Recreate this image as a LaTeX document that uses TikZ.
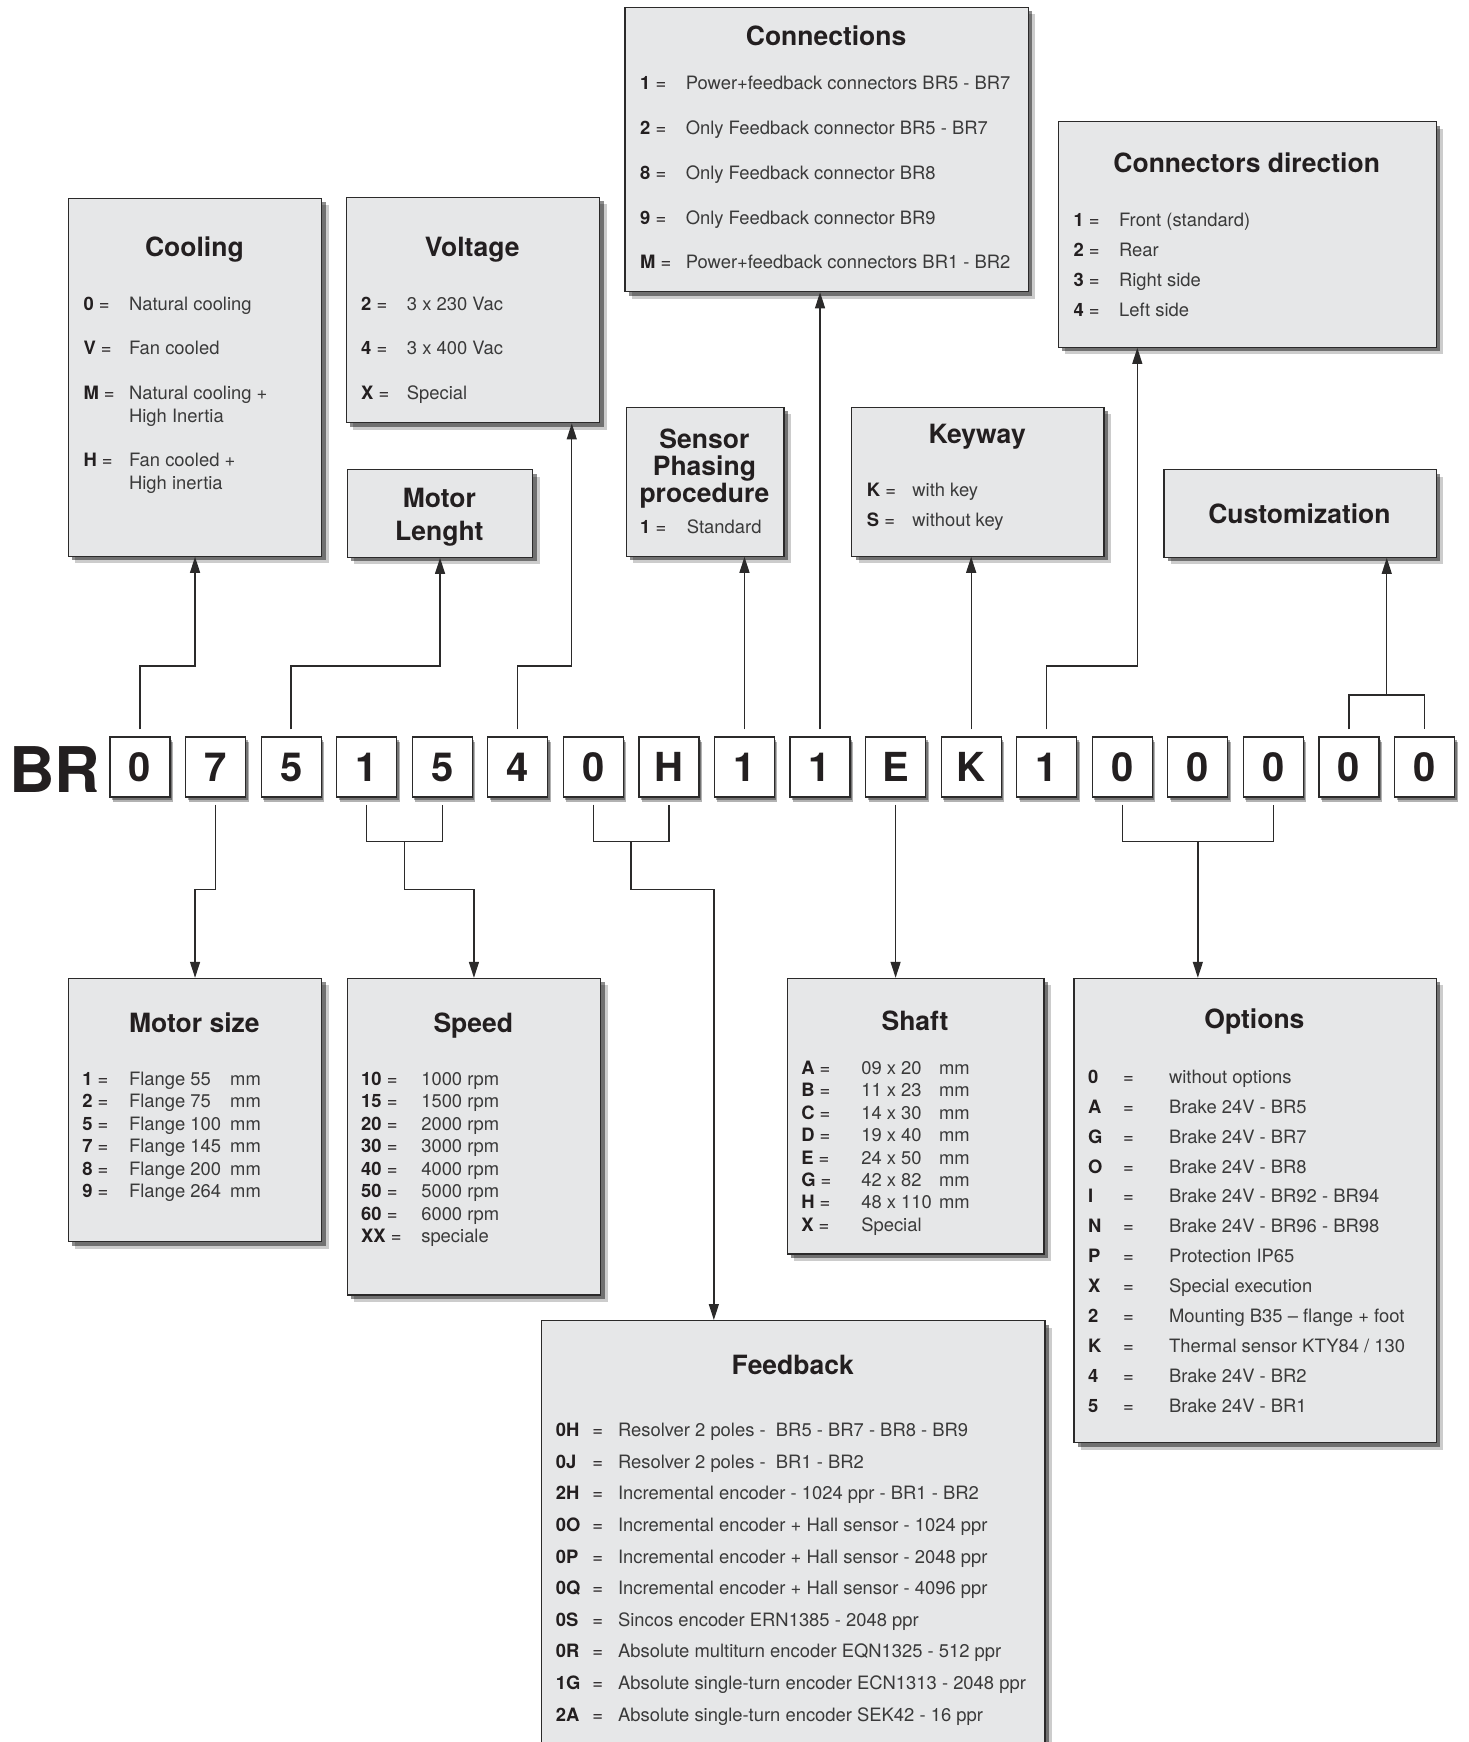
\documentclass[tikz,border=0pt]{standalone}
\usepackage{fontspec}
\setmainfont{TeX Gyre Heros}
\usetikzlibrary{positioning, arrows.meta, shadows, calc}
\definecolor{boxgrey}{HTML}{E6E7E8}
\definecolor{linegrey}{HTML}{2B2A2A}
\definecolor{keyblack}{HTML}{231F20}
\definecolor{valgrey}{HTML}{3A3A3A}
\newcommand{\bodysize}{\fontsize{18.4}{22}\selectfont}

\begin{document}
\begin{tikzpicture}[x=1pt, y=-1pt,
    codebox/.style={rectangle, draw=linegrey, line width=1.2pt, fill=white, minimum size=60pt, inner sep=0pt, font=\fontsize{40}{40}\selectfont\bfseries, text=keyblack, drop shadow={shadow xshift=2pt, shadow yshift=-3pt, opacity=0.35, fill=black}, drop shadow={shadow xshift=3pt, shadow yshift=-5pt, opacity=0.3, fill=black}},
    infobox/.style={rectangle, draw=linegrey, line width=1.2pt, fill=boxgrey, anchor=north west, inner sep=0pt, drop shadow={shadow xshift=7pt, shadow yshift=-7pt, opacity=0.2, fill=black}, drop shadow={shadow xshift=4pt, shadow yshift=-4pt, opacity=0.45, fill=black}},
    boxtitle/.style={anchor=base, inner sep=0pt, font=\fontsize{26.5}{30}\selectfont\bfseries, text=keyblack},
    keytxt/.style={anchor=base west, inner sep=0pt, font=\bodysize, text=keyblack},
    valtxt/.style={anchor=base west, inner sep=0pt, font=\bodysize, text=valgrey},
    conn/.style={draw=linegrey, line width=1.3pt, -{Triangle[length=16pt, width=10pt]}, shorten <=7pt},
    joinline/.style={draw=linegrey, line width=1.3pt, shorten <=7pt, shorten >=7pt}
]
\path[use as bounding box, clip] (0,0) rectangle (1469,1742);

% code row
\node[anchor=base west, inner sep=0pt, font=\fontsize{63}{63}\selectfont\bfseries, text=keyblack] (br) at (9,792) {BR};
\foreach \ch [count=\i from 0] in {0,7,5,1,5,4,0,H,1,1,E,K,1,0,0,0,0,0}
  \node[codebox] (c\i) at ({140+75.56*\i},767) {\ch};

% upper boxes
\node[infobox, minimum width=253.3pt, minimum height=357.8pt] (cooling) at (67.8,197.8) {};
\node[boxtitle] (cooling-t) at (194.4,256.7) {Cooling};
\node[keytxt] (cooling-k0) at (83.3,310) {\textbf{0} =};
\node[valtxt] (cooling-v0) at (128.9,310) {Natural cooling};
\node[keytxt] (cooling-k1) at (83.3,354.5) {\textbf{V} =};
\node[valtxt] (cooling-v1) at (128.9,354.5) {Fan cooled};
\node[keytxt] (cooling-k2) at (83.3,399) {\textbf{M} =};
\node[valtxt] (cooling-v2) at (128.9,399) {Natural cooling +};
\node[valtxt] (cooling-w2) at (128.9,422) {High Inertia};
\node[keytxt] (cooling-k3) at (83.3,466.7) {\textbf{H} =};
\node[valtxt] (cooling-v3) at (128.9,466.7) {Fan cooled +};
\node[valtxt] (cooling-w3) at (128.9,489) {High inertia};

\node[infobox, minimum width=253.3pt, minimum height=225.5pt] (voltage) at (345.6,196.7) {};
\node[boxtitle] (voltage-t) at (472.2,256.7) {Voltage};
\foreach \k/\v [count=\i from 0] in {2/3 x 230 Vac, 4/3 x 400 Vac, X/Special} {
  \node[keytxt] (voltage-k\i) at (361,{310+44.9*\i}) {\textbf{\k} =};
  \node[valtxt] (voltage-v\i) at (406.7,{310+44.9*\i}) {\v};
}

\node[infobox, minimum width=185.5pt, minimum height=87.8pt] (mlen) at (346.7,468.9) {};
\node[boxtitle] (mlen-t1) at (439.4,507.8) {Motor};
\node[boxtitle] (mlen-t2) at (439.4,540) {Lenght};

\node[infobox, minimum width=403.4pt, minimum height=284.4pt] (conns) at (624.4,6.7) {};
\node[boxtitle] (conns-t) at (826.1,45.6) {Connections};
\foreach \k/\v [count=\i from 0] in {1/Power+feedback connectors BR5 - BR7, 2/Only Feedback connector BR5 - BR7, 8/Only Feedback connector BR8, 9/Only Feedback connector BR9, M/Power+feedback connectors BR1 - BR2} {
  \node[keytxt] (conns-k\i) at (640,{90+44.7*\i}) {\textbf{\k} =};
  \node[valtxt] (conns-v\i) at (685.6,{90+44.7*\i}) {\v};
}

\node[infobox, minimum width=377.8pt, minimum height=225.6pt] (conndir) at (1057.8,121.1) {};
\node[boxtitle] (conndir-t) at (1246.7,172.2) {Connectors direction};
\foreach \k/\v [count=\i from 0] in {1/Front (standard), 2/Rear, 3/Right side, 4/Left side} {
  \node[keytxt] (conndir-k\i) at (1073.3,{226.6+30*\i}) {\textbf{\k} =};
  \node[valtxt] (conndir-v\i) at (1118.9,{226.6+30*\i}) {\v};
}

\node[infobox, minimum width=157.7pt, minimum height=148.9pt] (sensor) at (625.6,406.7) {};
\node[boxtitle] (sensor-t1) at (704.4,448.9) {Sensor};
\node[boxtitle] (sensor-t2) at (704.4,475.6) {Phasing};
\node[boxtitle] (sensor-t3) at (704.4,502.2) {procedure};
\node[keytxt] (sensor-k0) at (640,533.3) {\textbf{1} =};
\node[valtxt] (sensor-v0) at (686.7,533.3) {Standard};

\node[infobox, minimum width=252.2pt, minimum height=148.9pt] (keyway) at (851.1,406.7) {};
\node[boxtitle] (keyway-t) at (977.2,443.3) {Keyway};
\node[keytxt] (keyway-k0) at (866.7,496.6) {\textbf{K} =};
\node[valtxt] (keyway-v0) at (912.2,496.6) {with key};
\node[keytxt] (keyway-k1) at (866.7,526.6) {\textbf{S} =};
\node[valtxt] (keyway-v1) at (912.2,526.6) {without key};

\node[infobox, minimum width=272.3pt, minimum height=87.8pt] (custom) at (1163.3,468.9) {};
\node[boxtitle] (custom-t) at (1299.4,523.3) {Customization};

% lower boxes
\node[infobox, minimum width=253.3pt, minimum height=263.3pt] (msize) at (67.8,977.8) {};
\node[boxtitle] (msize-t) at (194.4,1032.2) {Motor size};
\foreach \k/\v [count=\i from 0] in {1/55, 2/75, 5/100, 7/145, 8/200, 9/264} {
  \node[keytxt] (msize-k\i) at (82.2,{1085.5+22.44*\i}) {\textbf{\k} =};
  \node[valtxt] (msize-v\i) at (128.9,{1085.5+22.44*\i}) {Flange \v};
  \node[valtxt] (msize-u\i) at (230,{1085.5+22.44*\i}) {mm};
}

\node[infobox, minimum width=253.3pt, minimum height=316.6pt] (speed) at (346.7,977.8) {};
\node[boxtitle] (speed-t) at (473.3,1032.2) {Speed};
\foreach \k/\v [count=\i from 0] in {10/1000 rpm, 15/1500 rpm, 20/2000 rpm, 30/3000 rpm, 40/4000 rpm, 50/5000 rpm, 60/6000 rpm, XX/speciale} {
  \node[keytxt] (speed-k\i) at (361,{1085.5+22.44*\i}) {\textbf{\k} =};
  \node[valtxt] (speed-v\i) at (421.1,{1085.5+22.44*\i}) {\v};
}

\node[infobox, minimum width=256.6pt, minimum height=275.5pt] (shaft) at (786.7,977.8) {};
\node[boxtitle] (shaft-t) at (915,1030) {Shaft};
\foreach \k/\v/\u [count=\i from 0] in {A/09 x 20/mm, B/11 x 23/mm, C/14 x 30/mm, D/19 x 40/mm, E/24 x 50/mm, G/42 x 82/mm, H/48 x 110/mm, X/Special/{}} {
  \node[keytxt] (shaft-k\i) at (801.1,{1074.4+22.4*\i}) {\textbf{\k} =};
  \node[valtxt] (shaft-v\i) at (861.1,{1074.4+22.4*\i}) {\v};
  \node[valtxt] (shaft-u\i) at (938.9,{1074.4+22.4*\i}) {\u};
}

\node[infobox, minimum width=362.3pt, minimum height=464.4pt] (options) at (1073.3,977.8) {};
\node[boxtitle] (options-t) at (1254.4,1028.9) {Options};
\foreach \k/\v [count=\i from 0] in {0/without options, A/Brake 24V - BR5, G/Brake 24V - BR7, O/Brake 24V - BR8, I/Brake 24V - BR92 - BR94, N/Brake 24V - BR96 - BR98, P/Protection IP65, X/Special execution, 2/Mounting B35 – flange + foot, K/{Thermal sensor KTY84 / 130}, 4/Brake 24V - BR2, 5/Brake 24V - BR1} {
  \node[keytxt] (options-k\i) at (1087.8,{1083.3+29.9*\i}) {\textbf{\k}};
  \node[keytxt] (options-e\i) at (1123,{1083.3+29.9*\i}) {=};
  \node[valtxt] (options-v\i) at (1168.9,{1083.3+29.9*\i}) {\v};
}

\node[infobox, minimum width=503.3pt, minimum height=440pt] (feedback) at (541.1,1320) {};
\node[boxtitle] (feedback-t) at (792.8,1374.4) {Feedback};
\foreach \k/\v [count=\i from 0] in {0H/Resolver 2 poles -~\ BR5 - BR7 - BR8 - BR9, 0J/Resolver 2 poles -~\ BR1 - BR2, 2H/Incremental encoder - 1024 ppr - BR1 - BR2, 0O/Incremental encoder + Hall sensor - 1024 ppr, 0P/Incremental encoder + Hall sensor - 2048 ppr, 0Q/Incremental encoder + Hall sensor - 4096 ppr, 0S/Sincos encoder ERN1385 - 2048 ppr, 0R/Absolute multiturn encoder EQN1325 - 512 ppr, 1G/Absolute single-turn encoder ECN1313 - 2048 ppr, 2A/Absolute single-turn encoder SEK42 - 16 ppr} {
  \node[keytxt] (feedback-k\i) at (555.6,{1436.6+31.6*\i}) {\textbf{\k}};
  \node[keytxt] (feedback-e\i) at (592.2,{1436.6+31.6*\i}) {=};
  \node[valtxt] (feedback-v\i) at (617.8,{1436.6+31.6*\i}) {\v};
}

% connectors up
\draw[conn] (c0.north) -- ++(0,-70.3) -| (cooling.south);
\draw[conn] (c2.north) -- ++(0,-70.3) -| (mlen.south);
\draw[conn] (c5.north) -- ++(0,-70.3) -| ([xshift=98.9pt]voltage.south);
\draw[conn] (c8.north) -- (c8.north |- sensor.south);
\draw[conn] (c9.north) -- (c9.north |- conns.south);
\draw[conn] (c11.north) -- (c11.north |- keyway.south);
\draw[conn] (c12.north) -- ++(0,-70.3) -| ([xshift=-110pt]conndir.south);
\draw[joinline] (c16.north) -- ++(0,-41.4) -| (c17.north);
\coordinate (cjoin) at ($(c16.north)!0.5!(c17.north)+(0,-41.4)$);
\draw[conn, shorten <=0pt] (cjoin) -- (cjoin |- custom.south);

% connectors down
\draw[conn] (c1.south) -- ++(0,91.9) -| (msize.north);
\draw[joinline] (c3.south) -- ++(0,44.1) -| (c4.south);
\coordinate (sjoin) at ($(c3.south)!0.5!(c4.south)+(0,44.1)$);
\draw[conn, shorten <=0pt] (sjoin) -- ++(0,47.8) -| (speed.north);
\draw[joinline] (c6.south) -- ++(0,44.1) -| (c7.south);
\coordinate (fjoin) at ($(c6.south)!0.5!(c7.south)+(0,44.1)$);
\draw[conn, shorten <=0pt] (fjoin) -- ++(0,47.8) -| ([xshift=-79.5pt]feedback.north);
\draw[conn] (c10.south) -- (c10.south |- shaft.north);
\draw[joinline] (c13.south) -- ++(0,44.1) -| (c15.south);
\coordinate (ojoin) at ($(c13.south)!0.5!(c15.south)+(0,44.1)$);
\draw[conn, shorten <=0pt] (ojoin) -- (ojoin |- options.north);
\end{tikzpicture}
\end{document}
